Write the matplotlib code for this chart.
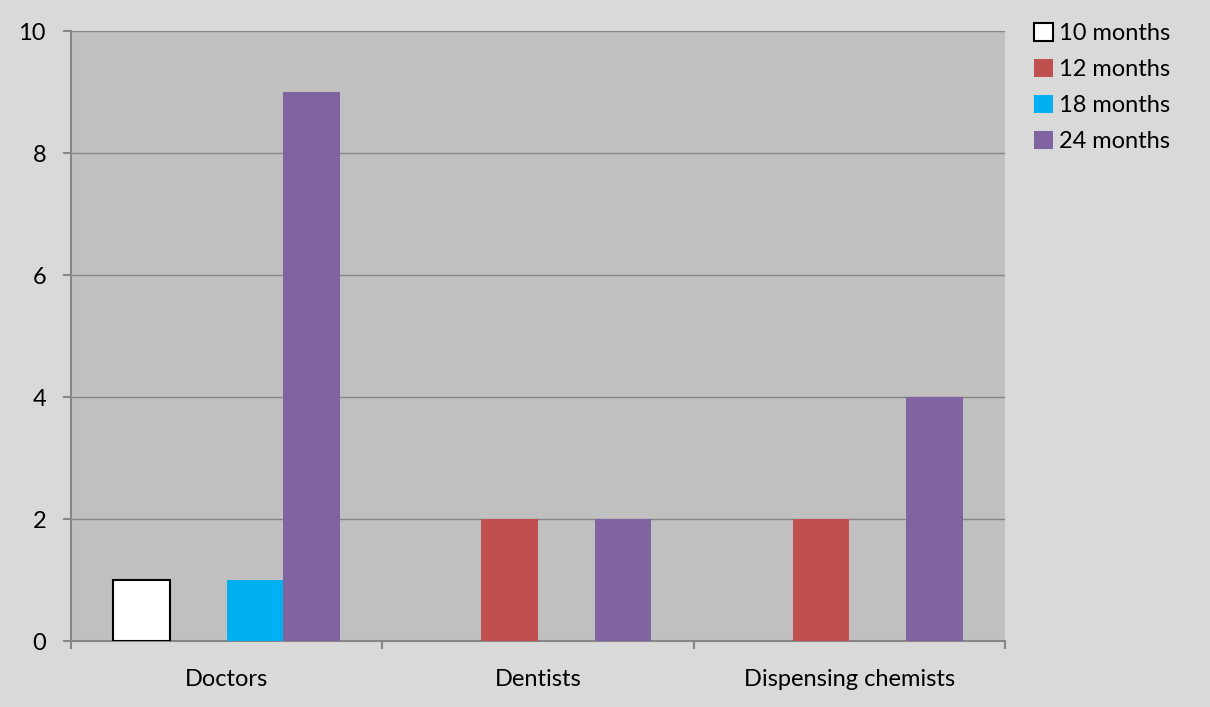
import numpy as np
import matplotlib.pyplot as plt

categories = ['Doctors', 'Dentists', 'Dispensing chemists']
series = ['10 months', '12 months', '18 months', '24 months']
values = {
    '10 months': [1, 0, 0],
    '12 months': [0, 2, 2],
    '18 months': [1, 0, 0],
    '24 months': [9, 2, 4],
}
colors = ['#ffffff', '#c0504d', '#00b0f0', '#8064a2']
edges = ['#000000', 'none', 'none', 'none']

plt.rcParams['font.family'] = ['Lato', 'DejaVu Sans']

fig = plt.figure(figsize=(12.1, 7.07), dpi=100, facecolor='#d9d9d9')
ax = fig.add_axes([71 / 1210, 1 - 641 / 707, (1005 - 71) / 1210, (641 - 31) / 707])
ax.set_facecolor('#c0c0c0')

x = np.arange(len(categories))
w = 1 / 5.5
for i, s in enumerate(series):
    vals = np.array(values[s], dtype=float)
    mask = vals > 0
    ax.bar(x[mask] + (i - 1.5) * w, vals[mask], width=w, color=colors[i],
           edgecolor=edges[i], linewidth=1.5 if edges[i] != 'none' else 0,
           label=s, zorder=3)

ax.set_xlim(-0.5, 2.5)
ax.set_ylim(0, 10)
ax.set_yticks(range(0, 11, 2))
ax.yaxis.grid(True, color='#868686', linewidth=1, zorder=0)
ax.set_axisbelow(True)

ax.set_xticks([-0.5, 0.5, 1.5, 2.5])
ax.set_xticklabels([])
ax.set_xticks(x, minor=True)
ax.set_xticklabels(categories, minor=True, fontsize=17)
ax.tick_params(axis='x', which='minor', length=0, pad=20)
ax.tick_params(axis='x', which='major', length=6, color='#868686', width=1.5)
ax.tick_params(axis='y', length=6, color='#868686', width=1.5, labelsize=17, pad=12)

for side in ['top', 'right']:
    ax.spines[side].set_visible(False)
for side in ['left', 'bottom']:
    ax.spines[side].set_color('#868686')
    ax.spines[side].set_linewidth(1.5)

leg = fig.legend(loc='upper left', bbox_to_anchor=(1013 / 1210, 1 - 2 / 707),
                 frameon=False, fontsize=17, handlelength=0.8, handleheight=0.8,
                 handletextpad=0.25, labelspacing=0.62)

fig.savefig('out.png', dpi=100, facecolor=fig.get_facecolor())
